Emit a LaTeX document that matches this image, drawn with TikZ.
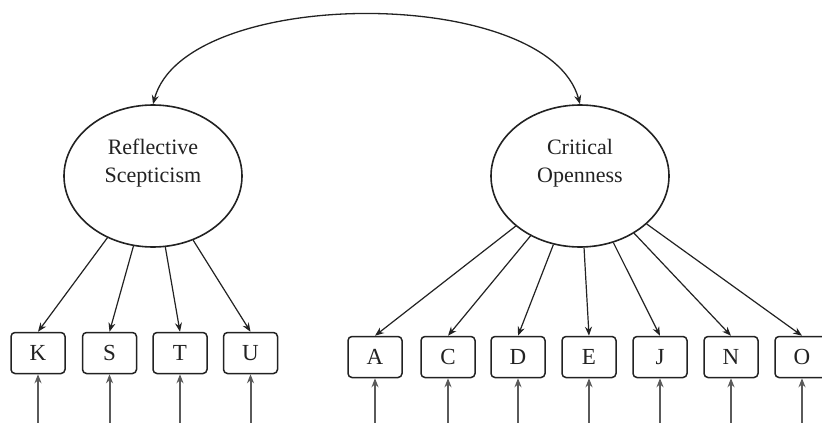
\documentclass[tikz,border=0pt]{standalone}
\usepackage{fontspec}
\setmainfont{Liberation Serif}
\usetikzlibrary{arrows.meta,shapes.geometric}
\definecolor{ink}{HTML}{222222}
\definecolor{feed}{HTML}{5A5A5A}
\begin{document}
\begin{tikzpicture}[x=1pt,y=-1pt,
  latent/.style={draw=ink,line width=1.6pt,ellipse,minimum width=178pt,minimum height=142pt,inner sep=0pt},
  obs/.style={draw=ink,line width=1.5pt,rounded corners=4pt,minimum width=54pt,minimum height=41pt,inner sep=0pt,font=\fontsize{23}{23}\selectfont,text=ink},
  load/.style={draw=ink,line width=1.2pt,-{Stealth[length=9pt,width=7pt]}},
  err/.style={draw=feed,line width=2pt,-{Stealth[length=9pt,width=7pt]}},
  lab/.style={align=center,font=\fontsize{22}{28}\selectfont,text=ink}
]
\clip (0,0) rectangle (822,423);
\fill[white] (0,0) rectangle (822,423);
% latent variables
\node[latent] (RS) at (153,176) {};
\node[latent] (CO) at (580,176) {};
\node[lab] at (153,163) {Reflective\\Scepticism};
\node[lab] at (580,163) {Critical\\Openness};
% observed indicators
\node[obs] (K) at (38,353) {K};
\node[obs] (S) at (109.5,353) {S};
\node[obs] (T) at (180,353) {T};
\node[obs] (U) at (250.5,353) {U};
\node[obs] (A) at (375,357) {A};
\node[obs] (C) at (448,357) {C};
\node[obs] (D) at (518,357) {D};
\node[obs] (E) at (589,357) {E};
\node[obs] (J) at (660,357) {J};
\node[obs] (N) at (731,357) {N};
\node[obs] (O) at (802,357) {O};
% covariance
\draw[draw=ink,line width=1.3pt,{Stealth[length=9pt,width=7pt]}-{Stealth[length=9pt,width=7pt]}]
  (RS.north) .. controls (185,-15) and (548,-15) .. (CO.north);
% loadings
\foreach \b in {K,S,T,U} \draw[load] (RS) -- (\b.north);
\foreach \b in {A,C,D,E,J,N,O} \draw[load] (CO) -- (\b.north);
% error terms
\foreach \b in {K,S,T,U,A,C,D,E,J,N,O} {
  \coordinate (e\b) at (\b.south |- 0,430);
  \draw[err] (e\b) -- (\b.south);
}
\end{tikzpicture}
\end{document}
